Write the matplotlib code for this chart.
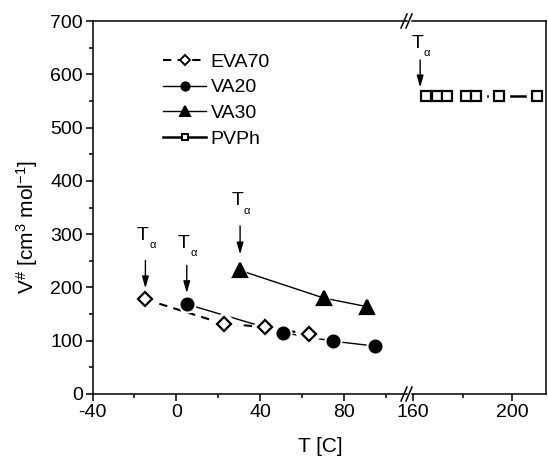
import matplotlib
matplotlib.use('Agg')
import matplotlib.pyplot as plt
import matplotlib.transforms as mtransforms
from matplotlib.lines import Line2D
from matplotlib.ticker import MultipleLocator

plt.rcParams['font.family'] = ['Liberation Sans', 'DejaVu Sans']
plt.rcParams['mathtext.default'] = 'regular'
plt.rcParams['axes.unicode_minus'] = False
plt.rcParams['axes.linewidth'] = 1.1

# data
eva_T = [-14.8, 22.6, 42.1, 63.2]
eva_V = [177.5, 131.5, 126, 112]
va20_T = [4.9, 50.9, 74.7, 94.5]
va20_V = [168.5, 115, 99, 90]
va30_T = [30.3, 70.2, 90.7]
va30_V = [232, 180, 164]
pvph_T = [165.3, 169.6, 173.6, 181.4, 185.5, 194.9, 210.0]
pvph_V = [559, 559, 559, 559, 559, 559, 559]

W, H = 548, 458
fig = plt.figure(figsize=(W / 100, H / 100), dpi=100)

bottom = (H - 394) / H
height = (394 - 21) / H
axL = fig.add_axes([92.5 / W, bottom, (407 - 92.5) / W, height])
axR = fig.add_axes([412 / W, bottom, (546 - 412) / W, height])

axL.set_xlim(-40, 109.8)
axR.set_xlim(159.6, 213.7)
for ax in (axL, axR):
    ax.set_ylim(0, 700)
    ax.tick_params(which='major', direction='out', length=5, width=1.1, labelsize=14, pad=2)
    ax.tick_params(which='minor', direction='out', length=3, width=1.1)

axL.xaxis.set_major_locator(MultipleLocator(40))
axL.xaxis.set_minor_locator(MultipleLocator(20))
axL.yaxis.set_major_locator(MultipleLocator(100))
axL.yaxis.set_minor_locator(MultipleLocator(50))
axL.spines['right'].set_visible(False)

axR.xaxis.set_major_locator(MultipleLocator(40))
axR.xaxis.set_minor_locator(MultipleLocator(20))
axR.spines['left'].set_visible(False)
axR.tick_params(axis='y', which='both', left=False, labelleft=False)


def series(ax, T, V, marker, ms, halo, ls, lw, face, label=None):
    # line, then a white halo so the line stops short of each symbol
    ax.plot(T, V, color='k', ls=ls, lw=lw, zorder=2.0)
    ax.plot(T, V, ls='none', marker=marker, ms=halo, mfc='white', mec='white', zorder=2.2)
    ax.plot(T, V, ls='none', marker=marker, ms=ms, mfc=face, mec='k', mew=1.6, zorder=4)
    return Line2D([], [], color='k', ls=ls, lw=lw, marker=marker, ms=ms, mfc=face, mec='k',
                  mew=1.4, label=label)


h1 = series(axL, eva_T, eva_V, 'D', 7, 13, (0, (4, 3)), 1.5, 'white', 'EVA70')
h2 = series(axL, va20_T, va20_V, 'o', 8.5, 12, '-', 1.0, 'black', 'VA20')
h3 = series(axL, va30_T, va30_V, '^', 10.5, 13, '-', 1.0, 'black', 'VA30')
h4 = series(axR, pvph_T, pvph_V, 's', 6.5, 14, '-', 1.8, 'white', 'PVPh')

axL.legend(handles=[h1, h2, h3, h4], loc='upper left', bbox_to_anchor=(0.2, 0.935),
           frameon=False, fontsize=14, handlelength=2.2, handletextpad=0.25,
           labelspacing=0.42, markerscale=0.7, borderaxespad=0)


def t_alpha(ax, x, y, dx=0, tip=8, tail=28, up=46):
    def off(ox, oy):
        return ax.transData + mtransforms.ScaledTranslation(ox / 72, oy / 72, fig.dpi_scale_trans)
    ax.annotate('', xy=(x, y), xycoords=off(dx, tip), xytext=(x, y), textcoords=off(dx, tail),
                arrowprops=dict(arrowstyle='-|>,head_length=0.7,head_width=0.2',
                                color='k', lw=1.0, shrinkA=0, shrinkB=0), zorder=5)
    ax.text(x, y, 'T', transform=off(dx - 2, up), ha='center', va='center', fontsize=14)
    ax.text(x, y, 'α', transform=off(dx + 5, up - 7), ha='center', va='center', fontsize=8)


t_alpha(axL, eva_T[0], eva_V[0])
t_alpha(axL, va20_T[0], va20_V[0], up=44)
t_alpha(axL, va30_T[0], va30_V[0], tip=11.5, tail=32, up=50)
t_alpha(axR, pvph_T[0], pvph_V[0], dx=-4.3, tip=6.3, tail=26, up=38)

# axis break marks
for xb in (404 / W, 409 / W):
    for yb in (bottom, bottom + height):
        fig.add_artist(Line2D([xb - 3 / W, xb + 3 / W], [yb - 7 / H, yb + 7 / H],
                              color='k', lw=1.1))

fig.text(27 / W, 1 - 227 / H, r'V$^{\#}$ [cm$^{3}$ mol$^{-1}$]', rotation=90,
         ha='center', va='center', fontsize=15)
fig.text(320 / W, 1 - 446 / H, 'T [C]', ha='center', va='center', fontsize=15)

fig.savefig('out.png', dpi=100)
